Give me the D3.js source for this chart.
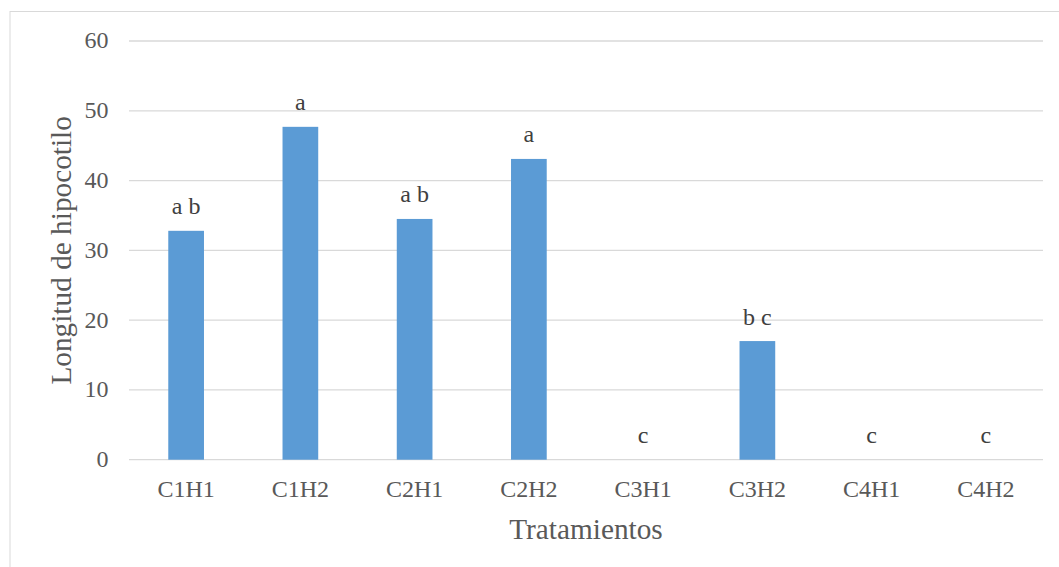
<!DOCTYPE html>
<html><head><meta charset="utf-8">
<script src="https://cdn.jsdelivr.net/npm/d3@7"></script>
<style>body{margin:0;background:#fff}svg{display:block}
svg text{font-family:"Liberation Serif","Times New Roman",Times,"Tinos","DejaVu Serif",serif;}</style>
</head><body>
<script>
const categories = ["C1H1","C1H2","C2H1","C2H2","C3H1","C3H2","C4H1","C4H2"];
const values = [32.8, 47.7, 34.5, 43.1, 0, 17.0, 0, 0];
const letters = ["a b","a","a b","a","c","b c","c","c"];
const yTicks = [0,10,20,30,40,50,60];

(function(){
const W = 1059, H = 567;
const svg = d3.select("body").append("svg").attr("width", W).attr("height", H);
svg.append("rect").attr("x", 10).attr("y", 11.5).attr("width", W + 10).attr("height", H + 10)
  .attr("fill", "#fff").attr("stroke", "#d9d9d9").attr("stroke-width", 1);

const pL = 129, pR = 1043, pT = 41, pB = 459.7;
const x = d3.scaleBand().domain(categories).range([pL, pR]).padding(0);
const y = d3.scaleLinear().domain([0, 60]).range([pB, pT]);
const bw = x.bandwidth() * 0.3125;

svg.append("g").selectAll("line").data(yTicks).join("line")
  .attr("x1", pL).attr("x2", pR).attr("y1", d => y(d)).attr("y2", d => y(d))
  .attr("stroke", "#d9d9d9").attr("stroke-width", 1.3);

svg.append("g").selectAll("text").data(yTicks).join("text")
  .attr("x", 108.5).attr("y", d => y(d)).attr("dy", "0.31em").attr("text-anchor", "end")
  .attr("font-size", 24).attr("fill", "#595959").text(d => d);

svg.append("g").selectAll("rect").data(values).join("rect")
  .attr("x", (d, i) => x(categories[i]) + x.bandwidth() / 2 - bw / 2)
  .attr("width", bw)
  .attr("y", d => y(d)).attr("height", d => y(0) - y(d))
  .attr("fill", "#5b9bd5");

svg.append("g").selectAll("text").data(letters).join("text")
  .attr("x", (d, i) => x(categories[i]) + x.bandwidth() / 2)
  .attr("y", (d, i) => y(values[i]) - 16.5)
  .attr("text-anchor", "middle").attr("font-size", 24)
  .attr("fill", "#404040").text(d => d);

svg.append("g").selectAll("text").data(categories).join("text")
  .attr("x", d => x(d) + x.bandwidth() / 2).attr("y", 497)
  .attr("text-anchor", "middle").attr("font-size", 24)
  .attr("fill", "#595959").text(d => d);

svg.append("text").attr("x", (pL + pR) / 2).attr("y", 539)
  .attr("text-anchor", "middle").attr("font-size", 29.3)
  .attr("fill", "#595959").text("Tratamientos");

svg.append("text").attr("transform", `translate(71,${(pT + pB) / 2}) rotate(-90)`)
  .attr("text-anchor", "middle").attr("font-size", 29.3)
  .attr("fill", "#595959").text("Longitud de hipocotilo");
})();
</script>
</body></html>
